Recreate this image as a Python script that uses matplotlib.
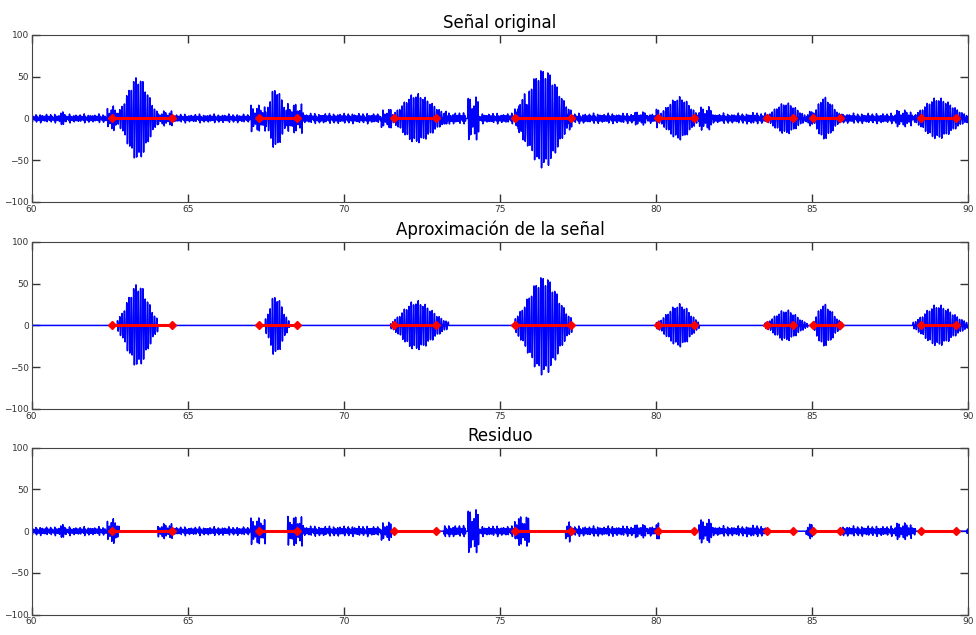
import numpy as np
import matplotlib
matplotlib.use('Agg')
import matplotlib.pyplot as plt

# detected segments (start, end) in seconds
seg_start = [62.57, 67.27, 71.61, 75.48, 80.05, 83.54, 85.03, 88.48]
seg_end = [64.51, 68.49, 72.95, 77.28, 81.22, 84.39, 85.89, 89.60]

# atoms of the approximation: start, peak, end, amplitude
atom_start = [62.75, 67.45, 71.50, 75.45, 80.00, 83.45, 85.00, 88.20]
atom_peak = [63.40, 67.80, 72.30, 76.40, 80.75, 84.15, 85.35, 89.00]
atom_end = [64.05, 68.25, 73.35, 77.30, 81.40, 84.85, 85.95, 90.00]
atom_amp = [51, 37, 30, 60, 26, 19, 26, 25]

# residual pieces: start, end, amplitude
res_start = [60.00, 60.85, 62.40, 64.05, 64.50, 67.00, 68.20, 68.70, 71.20, 73.20,
             73.95, 74.35, 75.45, 77.10, 77.25, 79.30, 80.00, 81.35, 81.80, 82.90,
             84.80, 85.90, 87.70, 89.95]
res_end = [62.40, 61.10, 62.80, 64.50, 67.00, 67.50, 68.70, 71.20, 71.55, 73.90,
           74.35, 75.45, 75.95, 77.25, 80.00, 79.70, 80.10, 81.80, 83.50, 83.30,
           85.05, 88.30, 88.20, 90.00]
res_amp = [5, 8, 15, 9, 5, 16, 18, 6, 11, 7,
           26, 6, 18, 15, 6, 8, 10, 14, 6, 7,
           9, 6, 10, 5]

t = np.arange(60, 90, 0.002)

# narrow oscillation pulses
def pulses(t, f, duty=0.5, mod=0.2):
    ph = (t * f) % 1.0
    p = np.where(ph < duty, np.sin(2 * np.pi * ph / duty), 0.0)
    return p * (1 - mod + mod * np.sin(2 * np.pi * 4.3 * t))

carrier = pulses(t, 13.5, 0.6, 0.1)

approx = np.zeros_like(t)
for a, p, b, amp in zip(atom_start, atom_peak, atom_end, atom_amp):
    sig = np.where(t < p, (p - a) / 2.0, (b - p) / 2.0)
    env = amp * np.exp(-0.5 * ((t - p) / sig) ** 2)
    env[(t < a) | (t > b)] = 0
    approx += env * carrier

# low level noise band vs. short bursts with visible strokes
hiss = 0.6 * pulses(t, 14.9, 0.5) + 0.5 * np.sin(2 * np.pi * 23.3 * t)
clicks = pulses(t, 16.1, 0.55, 0.3)
residual = np.zeros_like(t)
for a, b, amp in zip(res_start, res_end, res_amp):
    m = (t >= a) & (t <= b)
    residual[m] = amp * (clicks[m] if amp >= 8 else hiss[m])

original = approx + residual

titles = ['Señal original', 'Aproximación de la señal', 'Residuo']
signals = [original, approx, residual]

fig = plt.figure(figsize=(9.76, 6.35), dpi=100)
bottoms = [0.682, 0.356, 0.032]
for title, y, b in zip(titles, signals, bottoms):
    ax = fig.add_axes([0.0323, b, 0.960, 0.263])
    ax.plot(t, y, color='#0000ff', lw=1.1)
    for s, e in zip(seg_start, seg_end):
        ax.plot([s, e], [0, 0], color='#ff0000', lw=2.2, marker='D', ms=4)
    ax.set_xlim(60, 90)
    ax.set_ylim(-100, 100)
    ax.set_xticks([60, 65, 70, 75, 80, 85, 90])
    ax.set_yticks([-100, -50, 0, 50, 100])
    ax.tick_params(direction='in', length=6, width=1, top=True, right=True,
                   labelsize=6.5, pad=2, colors='#333333')
    for sp in ax.spines.values():
        sp.set_color('#444444')
    ax.set_title(title, fontsize=12, pad=5)

fig.savefig('out.png')
